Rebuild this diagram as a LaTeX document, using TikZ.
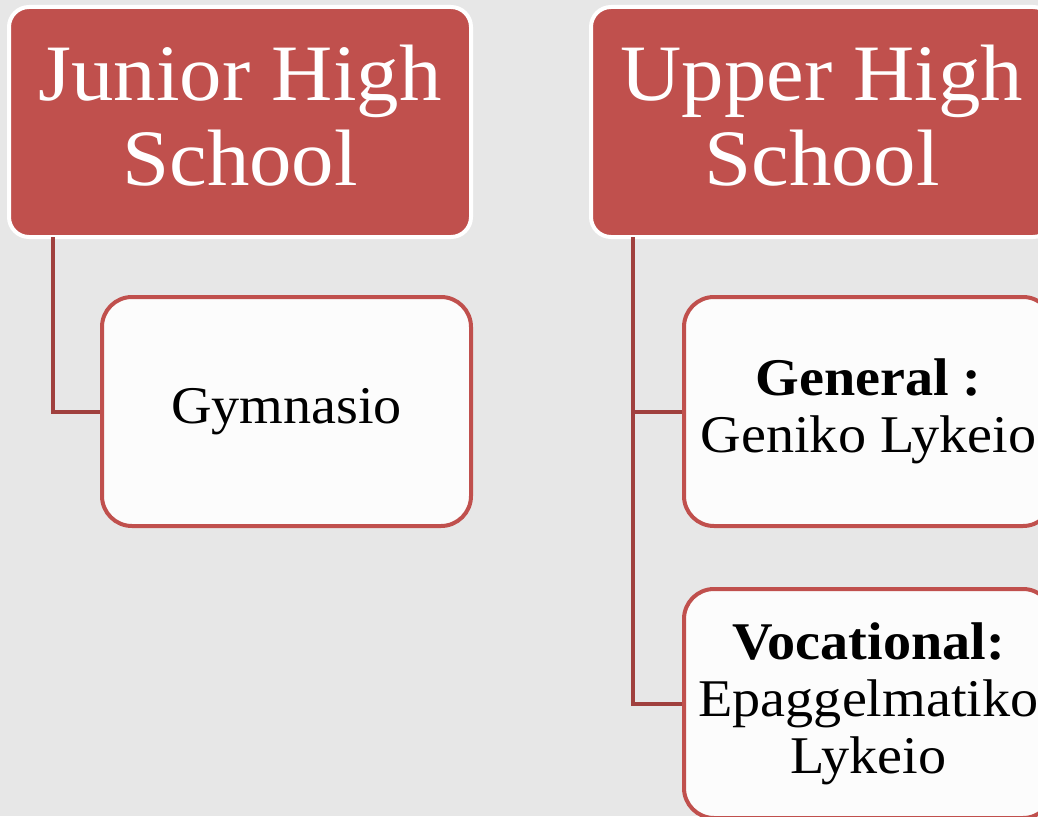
\documentclass[tikz,border=0pt]{standalone}
\usepackage{fontspec}
\setmainfont[FakeStretch=1.06]{Liberation Serif}
\definecolor{bg}{HTML}{E7E7E7}
\definecolor{hdr}{HTML}{C0504D}
\definecolor{conncol}{HTML}{A0403E}
\definecolor{boxfill}{HTML}{FCFCFC}
\tikzset{
  header/.style={rectangle, rounded corners=20pt, fill=hdr, draw=white, line width=4pt,
    minimum width=462pt, minimum height=230pt, inner sep=0pt},
  htext/.style={inner sep=0pt, text=white, align=center,
    font=\fontsize{80}{85}\selectfont},
  child/.style={rectangle, rounded corners=30pt, fill=boxfill, draw=hdr, line width=4pt,
    minimum width=369pt, minimum height=229pt, inner sep=0pt, text=black, align=center,
    font=\fontsize{53}{57}\selectfont},
  conn/.style={draw=conncol, line width=4pt}
}
\begin{document}
\begin{tikzpicture}[x=1pt,y=-1pt]
\useasboundingbox (0,0) rectangle (1038,816);
\clip (0,0) rectangle (1038,816);
\fill[bg] (0,0) rectangle (1038,816);
\node[header] (jh) at (240,122) {};
\node[htext] (jhT) at ([yshift=6pt]jh.center) {Junior High\\School};
\node[header] (uh) at (822,122) {};
\node[htext] (uhT) at ([yshift=6pt]uh.center) {Upper High\\School};
\node[child] (gym) at (286.5,411.5) {Gymnasio};
\node[child] (gen) at (868.5,411.5) {\textbf{General :}\\Geniko Lykeio};
\node[child] (voc) at (868.5,703.5) {\textbf{Vocational:}\\Epaggelmatiko\\Lykeio};
\draw[conn] ([xshift=46pt,yshift=2pt]jh.south west) |- (gym.west);
\draw[conn] ([xshift=44pt,yshift=2pt]uh.south west) |- (gen.west);
\draw[conn] ([xshift=44pt,yshift=2pt]uh.south west) |- (voc.west);
\end{tikzpicture}
\end{document}
